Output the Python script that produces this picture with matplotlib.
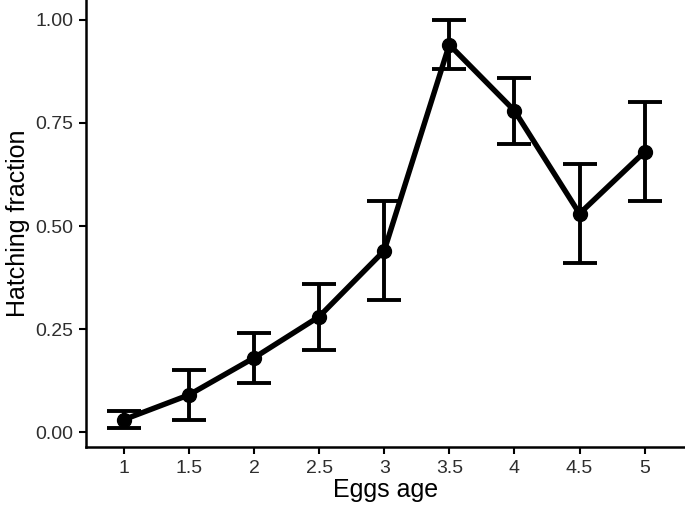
import numpy as np
import matplotlib.pyplot as plt

plt.rcParams['font.family'] = ['Liberation Sans', 'DejaVu Sans']

ages = ["1", "1.5", "2", "2.5", "3", "3.5", "4", "4.5", "5"]
hatching = [0.03, 0.09, 0.18, 0.28, 0.44, 0.94, 0.78, 0.53, 0.68]
err_low = [0.01, 0.03, 0.12, 0.20, 0.32, 0.88, 0.70, 0.41, 0.56]
err_high = [0.05, 0.15, 0.24, 0.36, 0.56, 1.00, 0.86, 0.65, 0.80]

x = np.arange(len(ages))
y = np.array(hatching)
yerr = [y - np.array(err_low), np.array(err_high) - y]

fig = plt.figure(figsize=(6.85, 5.08), dpi=100)
ax = fig.add_axes([0.1255, 0.12, 0.8745, 0.88])

ax.errorbar(x, y, yerr=yerr, fmt='none', ecolor='black', elinewidth=2.8,
            capsize=12.5, capthick=2.8, zorder=2)
ax.plot(x, y, color='black', linewidth=3.9, zorder=3)
ax.plot(x, y, 'o', color='black', markersize=10, zorder=4)

ax.set_xlim(-0.58, 8.62)
ax.set_ylim(-0.0364, 1.0485)
ax.set_xticks(x)
ax.set_xticklabels(ages)
ax.set_yticks([0, 0.25, 0.5, 0.75, 1.0])
ax.set_yticklabels(["0.00", "0.25", "0.50", "0.75", "1.00"])

for side in ['top', 'right']:
    ax.spines[side].set_visible(False)
for side in ['left', 'bottom']:
    ax.spines[side].set_linewidth(1.8)

ax.tick_params(axis='both', length=5, width=1.5, color='black',
               labelsize=14, labelcolor='#2e2e2e', pad=4)
ax.set_xlabel("Eggs age", fontsize=18, labelpad=1)
ax.set_ylabel("Hatching fraction", fontsize=18, labelpad=4)

fig.savefig("out.png", dpi=100)
